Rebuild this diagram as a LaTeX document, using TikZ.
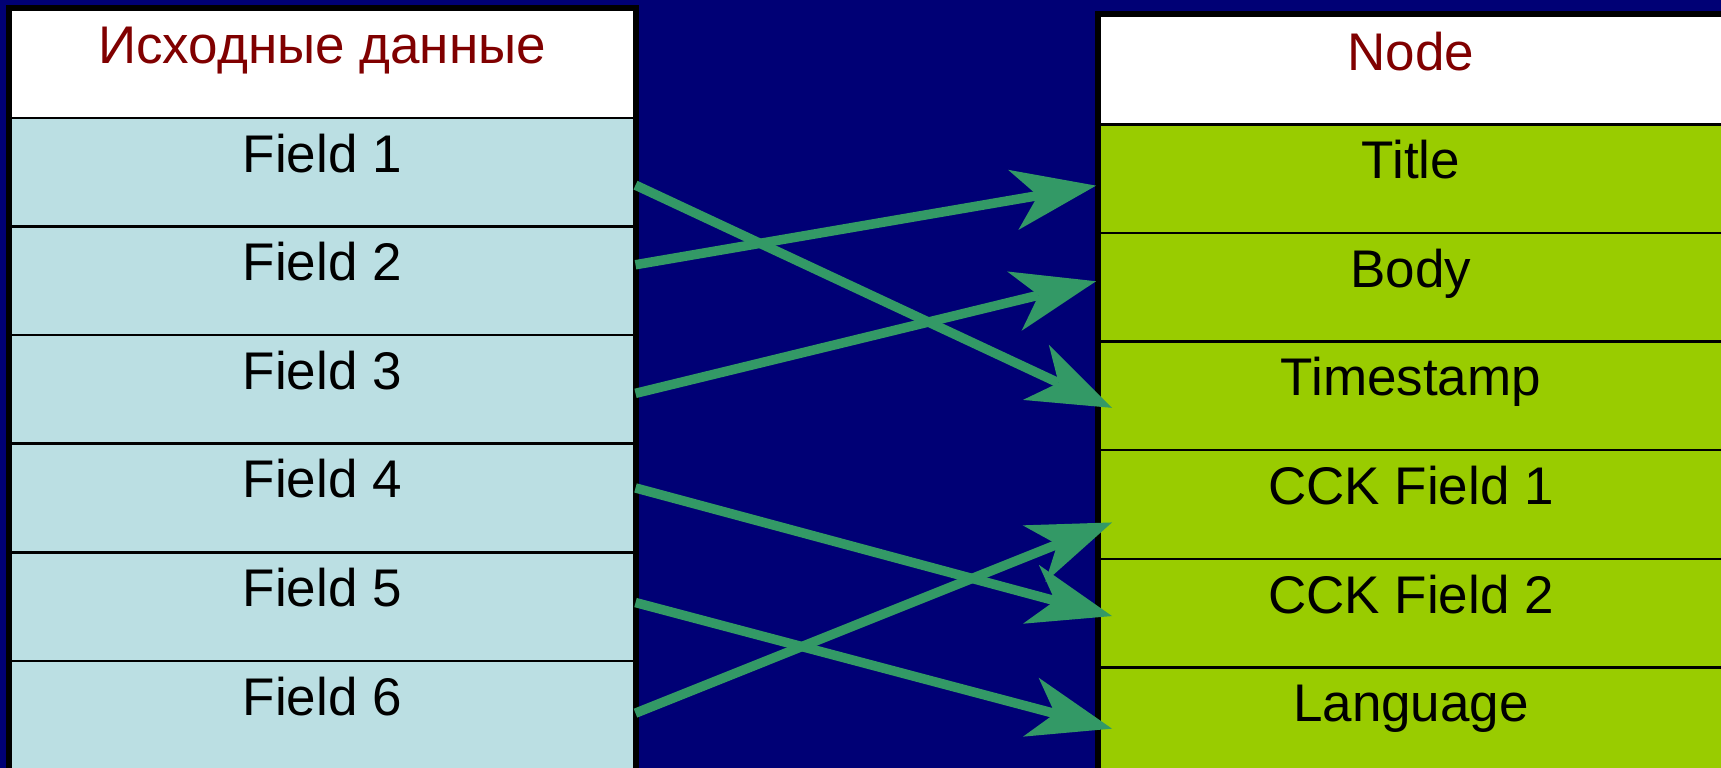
\documentclass[tikz,border=0pt]{standalone}
\usepackage{fontspec}
\setmainfont{Liberation Sans}
\usetikzlibrary{arrows.meta,calc}

\definecolor{navybg}{HTML}{000075}
\definecolor{srcfill}{HTML}{BBDFE3}
\definecolor{dstfill}{HTML}{99CC00}
\definecolor{linkcol}{HTML}{339966}
\definecolor{headtext}{HTML}{800000}

\tikzset{
  cell/.style={rectangle, draw=black, line width=2.5pt, inner sep=0pt,
    anchor=north west, minimum height=108.6pt,
    text height=20pt, text depth=20pt,
    font=\fontsize{53}{60}\selectfont},
  srccell/.style={cell, fill=srcfill, minimum width=624pt},
  dstcell/.style={cell, fill=dstfill, minimum width=623.5pt},
  headcell/.style={fill=white, text=headtext},
  frame/.style={draw=black, line width=6pt},
  link/.style={draw=linkcol, line width=9.5pt,
    -{Stealth[length=84pt, width=61pt, inset=25pt, line width=0pt]}},
}

\begin{document}
\begin{tikzpicture}[x=1pt, y=-1pt]
  \useasboundingbox (0,0) rectangle (1721,768);
  \clip (0,0) rectangle (1721,768);
  \fill[navybg] (0,0) rectangle (1721,768);

  % source record
  \node[srccell, headcell] (l0) at (9,8) {Исходные данные};
  \foreach \i in {1,...,6}
    \node[srccell] (l\i) at (9,{8+108.6*\i}) {Field \i};
  \draw[frame] (l0.north west) rectangle (l6.south east);

  % target node
  \node[dstcell, headcell] (r0) at (1098,14.5) {Node};
  \node[dstcell] (r1) at (1098,{14.5+108.6*1}) {Title};
  \node[dstcell] (r2) at (1098,{14.5+108.6*2}) {Body};
  \node[dstcell] (r3) at (1098,{14.5+108.6*3}) {Timestamp};
  \node[dstcell] (r4) at (1098,{14.5+108.6*4}) {CCK Field 1};
  \node[dstcell] (r5) at (1098,{14.5+108.6*5}) {CCK Field 2};
  \node[dstcell] (r6) at (1098,{14.5+108.6*6}) {Language};
  \draw[frame] (r0.north west) rectangle (r6.south east);

  % field mapping
  \draw[link] ($(l1.east)+(0,13)$)   -- ($(r3.west)+(14,12)$);
  \draw[link] ($(l2.east)+(0,-16)$)  -- ($(r1.west)+(-2,7)$);
  \draw[link] ($(l3.east)+(0,4)$)    -- ($(r2.west)+(-2,-6)$);
  \draw[link] ($(l4.east)+(0,-10)$)  -- ($(r5.west)+(14,3)$);
  \draw[link] ($(l5.east)+(0,-4)$)   -- ($(r6.west)+(14,7)$);
  \draw[link] ($(l6.east)+(0,-2)$)   -- ($(r4.west)+(14,18)$);
\end{tikzpicture}
\end{document}
